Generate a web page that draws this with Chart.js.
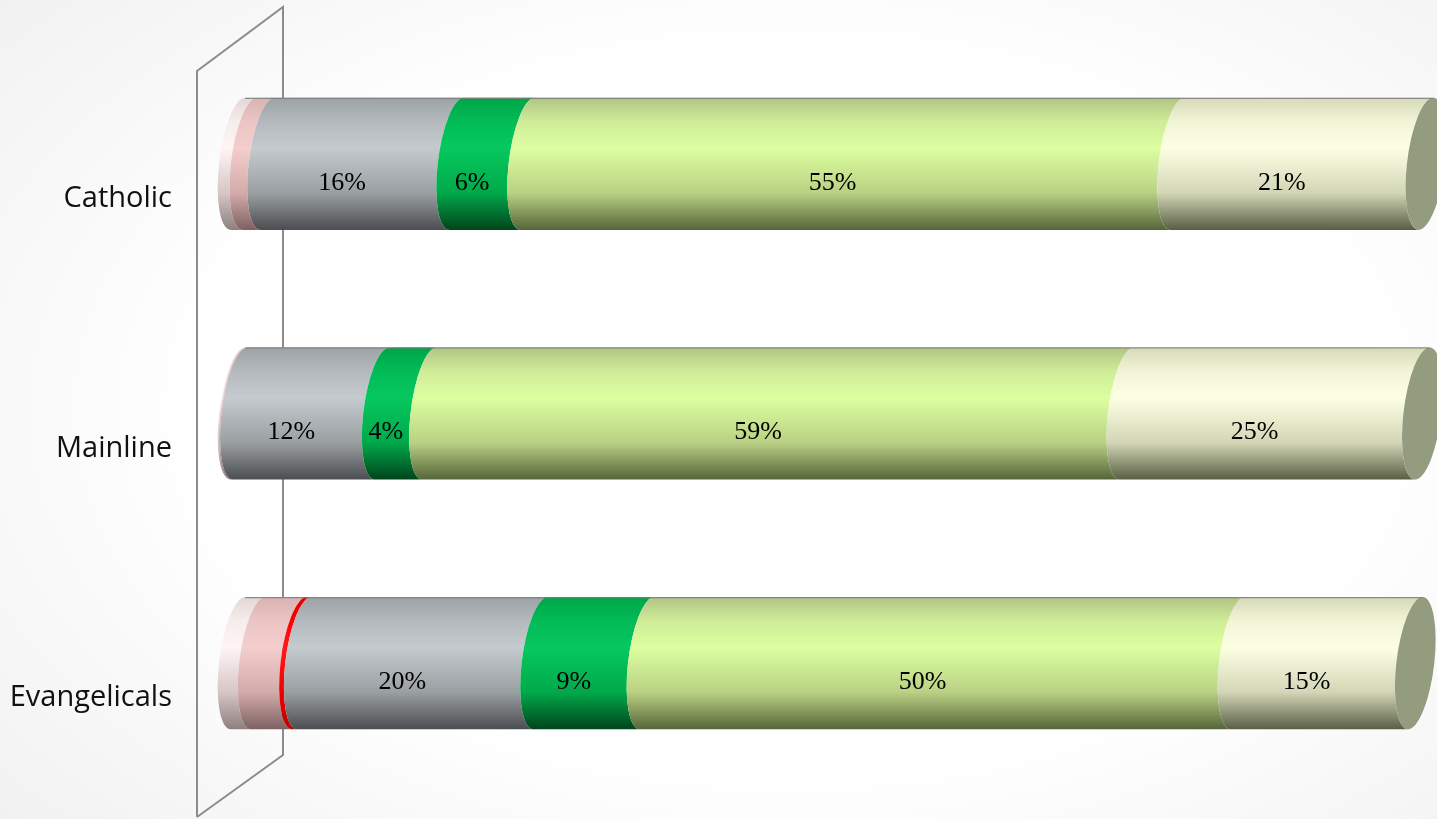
<!DOCTYPE html>
<html>
<head>
<meta charset="utf-8">
<script src="https://cdn.jsdelivr.net/npm/chart.js@4"></script>
<style>
  html, body { margin: 0; padding: 0; }
  body {
    width: 1437px; height: 819px; overflow: hidden;
    background: radial-gradient(ellipse 75% 80% at 55% 50%, #ffffff 55%, #f0f0f0 100%);
  }
  canvas { display: block; }
</style>
</head>
<body>
<canvas id="chart" width="1437" height="819"></canvas>
<script>
// Categories (top to bottom)
const categories = ['Catholic', 'Mainline', 'Evangelicals'];

// Share of responses per group, in percent, stacked left to right
const seriesPaleRose = [1.0, 0.1, 1.7];
const seriesRose     = [1.5, 0.1, 3.5];
const seriesRed      = [0.0, 0.0, 0.4];
const seriesGray     = [16, 12, 20];
const seriesGreen    = [6, 4, 9];
const seriesLime     = [55, 59, 50];
const seriesCream    = [21, 25, 15];

// Vertical shading for each cylinder colour: [top, upper, highlight, lower, bottom]
const shades = {
  paleRose: ['#e4d6d6', '#f6ecec', '#fff4f4', '#d6c6c6', '#8e8080'],
  rose:     ['#d9b2b2', '#ebc4c4', '#f4cdcd', '#d3abab', '#7e6161'],
  red:      ['#e00000', '#ff0000', '#ff1a1a', '#f00000', '#b80000'],
  gray:     ['#9da2a5', '#b3b9bc', '#c4cacd', '#9a9fa2', '#4b4d50'],
  green:    ['#00a548', '#02bb57', '#06c85e', '#00a94a', '#00441b'],
  lime:     ['#b0c385', '#cfec98', '#dcffa0', '#b9d183', '#56653a'],
  cream:    ['#d6dab8', '#f1f4d6', '#fdffe2', '#d2d6b6', '#595f44']
};
const capColor = '#939c7e';

const datasets = [
  { label: 'Pale rose', data: seriesPaleRose, shade: shades.paleRose, labelled: false },
  { label: 'Rose',      data: seriesRose,     shade: shades.rose,     labelled: false },
  { label: 'Red',       data: seriesRed,      shade: shades.red,      labelled: false },
  { label: 'Gray',      data: seriesGray,     shade: shades.gray,     labelled: true },
  { label: 'Green',     data: seriesGreen,    shade: shades.green,    labelled: true },
  { label: 'Lime',      data: seriesLime,     shade: shades.lime,     labelled: true },
  { label: 'Cream',     data: seriesCream,    shade: shades.cream,    labelled: true }
].map(d => Object.assign(d, {
  backgroundColor: 'rgba(0,0,0,0)',
  borderWidth: 0,
  barPercentage: 132 / 249.5,
  categoryPercentage: 1
}));

const RX = 19;       // horizontal radius of each cylinder cross-section
const SHEAR = -0.11; // slant of the cross-sections

// Back wall of the value axis
const wallPlugin = {
  id: 'wall',
  beforeDatasetsDraw(chart) {
    const ctx = chart.ctx;
    ctx.save();
    ctx.strokeStyle = '#8c8c8c';
    ctx.lineWidth = 2;
    ctx.lineJoin = 'miter';
    ctx.beginPath();
    ctx.moveTo(197, 817);
    ctx.lineTo(197, 71);
    ctx.lineTo(283, 7);
    ctx.lineTo(283, 755);
    ctx.lineTo(197, 817);
    ctx.stroke();
    ctx.restore();
  }
};

function shadeGradient(ctx, r, stops) {
  const g = ctx.createLinearGradient(0, -r, 0, r);
  const pos = [0, 0.18, 0.38, 0.72, 1];
  stops.forEach((c, i) => g.addColorStop(pos[i], c));
  return g;
}

// Draws the stacked bars as cylinders from the bar elements laid out by Chart.js
const cylinderPlugin = {
  id: 'cylinders',
  afterDatasetsDraw(chart) {
    const ctx = chart.ctx;
    const n = chart.data.labels.length;
    for (let i = 0; i < n; i++) {
      let last = null, first = null;
      const labels = [];
      chart.data.datasets.forEach((ds, di) => {
        const el = chart.getDatasetMeta(di).data[i];
        if (!el || !(ds.data[i] > 0)) return;
        const xL = Math.min(el.base, el.x), xR = Math.max(el.base, el.x);
        const cy = el.y, r = el.height / 2;
        if (!first) first = { xL, cy, r };
        last = { xR, cy, r };
        ctx.save();
        ctx.translate(0, cy);
        ctx.transform(1, 0, SHEAR, 1, 0, 0);
        ctx.beginPath();
        ctx.moveTo(xL, -r);
        ctx.lineTo(xR, -r);
        ctx.ellipse(xR, 0, RX, r, 0, -Math.PI / 2, Math.PI / 2, true);
        ctx.lineTo(xL, r);
        ctx.ellipse(xL, 0, RX, r, 0, Math.PI / 2, -Math.PI / 2, false);
        ctx.closePath();
        ctx.fillStyle = shadeGradient(ctx, r, ds.shade);
        ctx.fill();
        ctx.restore();
        if (ds.labelled) {
          labels.push({ x: (xL + xR) / 2 - 20, y: cy + 19, text: ds.data[i] + '%' });
        }
      });
      if (!last) continue;
      // end cap and outline of the top edge
      ctx.save();
      ctx.translate(0, last.cy);
      ctx.transform(1, 0, SHEAR, 1, 0, 0);
      ctx.beginPath();
      ctx.ellipse(last.xR, 0, RX, last.r, 0, 0, Math.PI * 2);
      ctx.fillStyle = capColor;
      ctx.fill();
      ctx.beginPath();
      ctx.moveTo(first.xL, -last.r + 0.5);
      ctx.lineTo(last.xR, -last.r + 0.5);
      ctx.strokeStyle = 'rgba(125,125,125,0.85)';
      ctx.lineWidth = 1.2;
      ctx.stroke();
      ctx.restore();
      // value labels
      ctx.save();
      ctx.font = '26px "Liberation Serif", serif';
      ctx.fillStyle = '#000000';
      ctx.textAlign = 'center';
      ctx.textBaseline = 'middle';
      labels.forEach(l => ctx.fillText(l.text, l.x, l.y));
      ctx.restore();
    }
  }
};

new Chart(document.getElementById('chart'), {
  type: 'bar',
  data: { labels: categories, datasets },
  options: {
    indexAxis: 'y',
    responsive: false,
    animation: false,
    events: [],
    layout: { padding: { top: 39, bottom: 31, left: 0, right: 17 } },
    plugins: { legend: { display: false }, tooltip: { enabled: false } },
    scales: {
      x: {
        stacked: true,
        min: 0,
        max: 100,
        display: false
      },
      y: {
        stacked: true,
        grid: { display: false, drawTicks: false },
        border: { display: false },
        ticks: {
          color: '#111111',
          font: { family: '"Open Sans", sans-serif', size: 29 },
          padding: 66,
          labelOffset: 35
        },
        afterFit(scale) {
          scale.width = 238;
          scale.paddingTop = 0;
          scale.paddingBottom = 0;
        }
      }
    }
  },
  plugins: [wallPlugin, cylinderPlugin]
});
</script>
</body>
</html>
